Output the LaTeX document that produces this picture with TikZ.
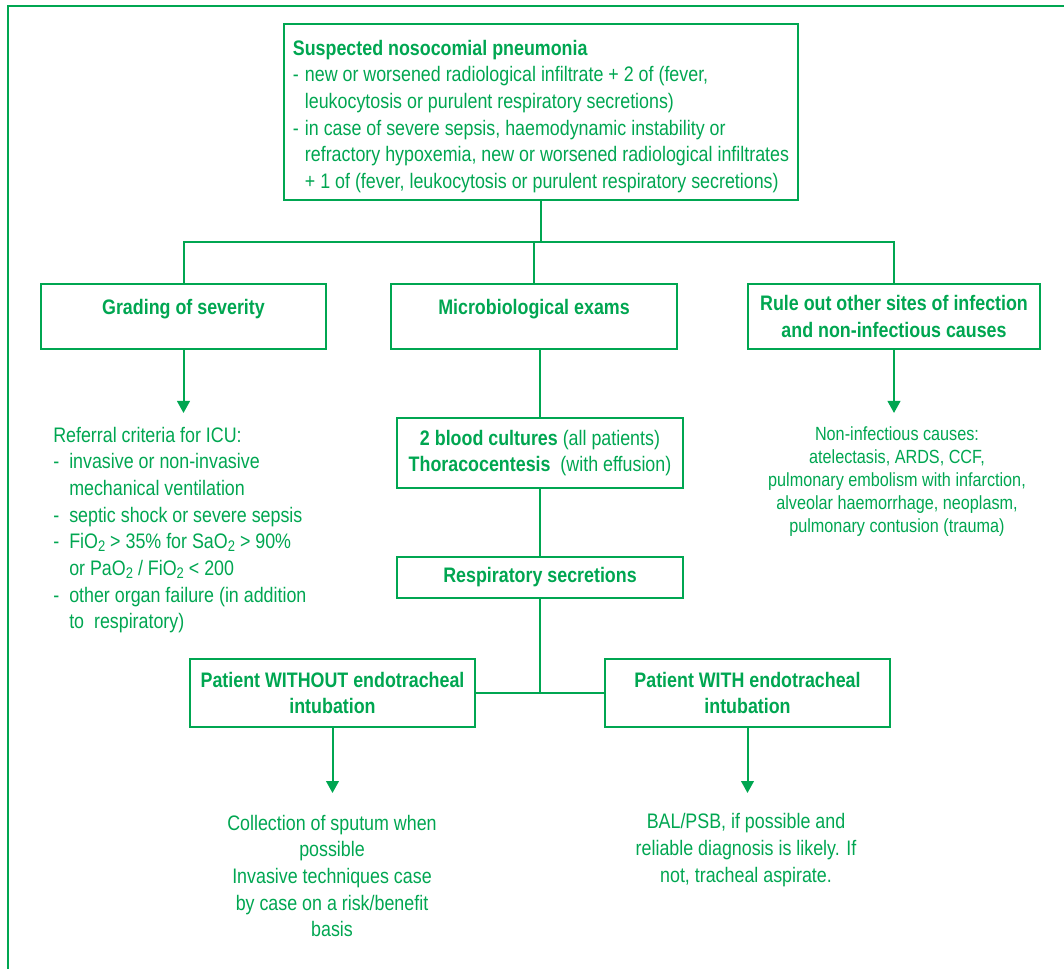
\documentclass[tikz,border=0pt]{standalone}
\usepackage{fontspec}
\setmainfont{Liberation Sans}[FakeStretch=0.85]
\usetikzlibrary{arrows.meta}
\definecolor{grn}{HTML}{00A651}
\def\pxu{0.75pt}
\newcommand{\lowtwo}{\raisebox{-0.25ex}{\fontsize{11.5}{11.5}\selectfont 2}}
\begin{document}
\begin{tikzpicture}[x=0.75pt,y=-0.75pt,
  every node/.style={text=grn, font=\fontsize{15.75}{20}\selectfont},
  box/.style={draw=grn, line width=1.5pt, rectangle, inner sep=0pt, align=center},
  hd/.style={font=\fontsize{15.75}{20}\selectfont\bfseries},
  conn/.style={draw=grn, line width=1.5pt},
  arr/.style={conn, -{Triangle[width=9.5pt,length=9pt]}},
  txt/.style={inner sep=0pt}
]
\useasboundingbox (0,0) rectangle (1064,969);
\draw[grn, line width=1.8pt] (8,975) -- (8,6) -- (1070,6);

\node[box, minimum width=514*\pxu, minimum height=176*\pxu, align=left] (top) at (541,112)
 {\rule{0pt}{18pt}\textbf{Suspected nosocomial pneumonia}\\
  \makebox[9pt][l]{-}new or worsened radiological infiltrate + 2 of (fever,\\
  \makebox[9pt][l]{}leukocytosis or purulent respiratory secretions)\\
  \makebox[9pt][l]{-}in case of severe sepsis, haemodynamic instability or\\
  \makebox[9pt][l]{}refractory hypoxemia, new or worsened radiological infiltrates\\
  \makebox[9pt][l]{}+ 1 of (fever, leukocytosis or purulent respiratory secretions)};

\node[box, hd, minimum width=285*\pxu, minimum height=65*\pxu] (grade) at (183.5,316.5) {\rule{0pt}{17pt}Grading of severity\\\mbox{}};
\node[box, hd, minimum width=286*\pxu, minimum height=65*\pxu] (micro) at (534,316.5) {\rule{0pt}{17pt}Microbiological exams\\\mbox{}};
\node[box, hd, minimum width=292*\pxu, minimum height=65*\pxu] (rule) at (894,316.5) {Rule out other sites of infection\\and non-infectious causes};
\node[box, minimum width=286*\pxu, minimum height=70*\pxu] (blood) at (540,453)
 {\textbf{2 blood cultures} (all patients)\\\textbf{Thoracocentesis}\ \ (with effusion)};
\node[box, hd, minimum width=286*\pxu, minimum height=41*\pxu] (resp) at (540,577.5) {Respiratory secretions};
\node[box, hd, minimum width=285*\pxu, minimum height=68*\pxu] (without) at (332.5,693) {Patient WITHOUT endotracheal\\intubation};
\node[box, hd, minimum width=285*\pxu, minimum height=68*\pxu] (with) at (747.5,693) {Patient WITH endotracheal\\intubation};

\node[txt, align=left, anchor=west] (ref) at (53,530)
 {Referral criteria for ICU:\\
  \makebox[12pt][l]{-}invasive or non-invasive\\
  \makebox[12pt][l]{}mechanical ventilation\\
  \makebox[12pt][l]{-}septic shock or severe sepsis\\
  \makebox[12pt][l]{-}FiO\lowtwo{} > 35\% for SaO\lowtwo{} > 90\%\\
  \makebox[12pt][l]{}or PaO\lowtwo{} / FiO\lowtwo{} < 200\\
  \makebox[12pt][l]{-}other organ failure (in addition\\
  \makebox[12pt][l]{}to\ \ respiratory)};
\node[txt, align=center, font=\fontsize{14.3}{17.25}\selectfont] (noninf) at (897,482)
 {Non-infectious causes:\\atelectasis, ARDS, CCF,\\pulmonary embolism with infarction,\\alveolar haemorrhage, neoplasm,\\pulmonary contusion (trauma)};
\node[txt, align=center] (coll) at (332,876)
 {Collection of sputum when\\possible\\Invasive techniques case\\by case on a risk/benefit\\basis};
\node[txt, align=center] (bal) at (746,850)
 {BAL/PSB, if possible and\\reliable diagnosis is likely. If\\not, tracheal aspirate.};

\coordinate (jy) at (0,242);
\coordinate (a1) at (183.5,413);
\coordinate (a2) at (894,413);
\coordinate (a3) at (332.5,793);
\coordinate (a4) at (747.5,793);

\draw[conn] (top.south) -- (top.south |- jy);
\draw[conn] (grade.north) -- (grade.north |- jy) -- (rule.north |- jy) -- (rule.north);
\draw[conn] (micro.north) -- (micro.north |- jy);
\draw[conn] (blood.north |- micro.south) -- (blood.north);
\draw[conn] (blood.south) -- (resp.north);
\draw[conn] (resp.south) -- (resp.south |- without.east);
\draw[conn] (without.east) -- (with.west);
\draw[arr] (grade.south) -- (a1);
\draw[arr] (rule.south) -- (a2);
\draw[arr] (without.south) -- (a3);
\draw[arr] (with.south) -- (a4);
\end{tikzpicture}
\end{document}
